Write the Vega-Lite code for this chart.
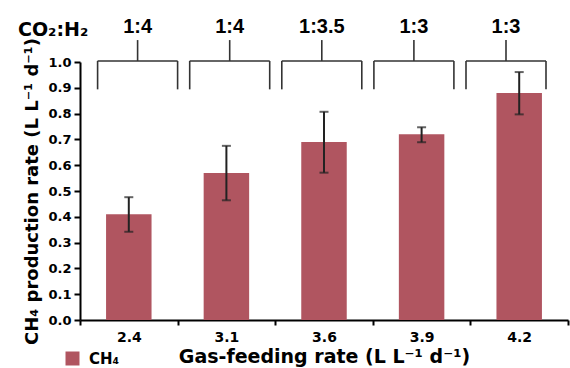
{
  "$schema": "https://vega.github.io/schema/vega-lite/v6.json",
  "width": 488,
  "height": 258,
  "autosize": {"type": "none"},
  "padding": {"left": 80, "top": 62, "right": 2, "bottom": 48},
  "background": "white",
  "config": {
    "view": {"stroke": null},
    "font": "DejaVu Sans",
    "axisY": {
      "labelOverlap": false,
      "labelFont": "DejaVu Sans",
      "labelFontSize": 13,
      "labelFontWeight": "bold",
      "labelColor": "black",
      "labelPadding": 3,
      "titleFont": "DejaVu Sans",
      "titleFontSize": 18,
      "titleFontWeight": "bold",
      "titleColor": "black",
      "titlePadding": 6,
      "domainColor": "black",
      "domainWidth": 2,
      "tickColor": "black",
      "tickWidth": 2,
      "tickSize": 6,
      "grid": false
    }
  },
  "title": {
    "text": "CO₂:H₂",
    "anchor": "start",
    "frame": "group",
    "orient": "top",
    "dx": -62,
    "offset": -23,
    "font": "DejaVu Sans",
    "fontSize": 19,
    "fontWeight": "bold",
    "color": "black"
  },
  "datasets": {
    "bars": [
      {"rate": "2.4", "ch4": 0.41, "lo": 0.342, "hi": 0.476},
      {"rate": "3.1", "ch4": 0.57, "lo": 0.464, "hi": 0.675},
      {"rate": "3.6", "ch4": 0.69, "lo": 0.571, "hi": 0.807},
      {"rate": "3.9", "ch4": 0.72, "lo": 0.689, "hi": 0.747},
      {"rate": "4.2", "ch4": 0.88, "lo": 0.797, "hi": 0.961}
    ],
    "ratios": [
      {"rate": "2.4", "ratio": "1:4"},
      {"rate": "3.1", "ratio": "1:4"},
      {"rate": "3.6", "ratio": "1:3.5"},
      {"rate": "3.9", "ratio": "1:3"},
      {"rate": "4.2", "ratio": "1:3"}
    ]
  },
  "layer": [
    {
      "data": {"name": "bars"},
      "layer": [
        {
          "mark": {"type": "bar", "width": {"band": 0.466}},
          "encoding": {
            "x": {
              "field": "rate",
              "type": "ordinal",
              "scale": {"type": "band", "paddingInner": 0, "paddingOuter": 0},
              "axis": {
                "title": "Gas-feeding rate (L L⁻¹ d⁻¹)",
                "labelAngle": 0,
                "tickBand": "extent",
                "labelFont": "DejaVu Sans",
                "labelFontSize": 14,
                "labelFontWeight": "bold",
                "labelColor": "black",
                "labelPadding": 5,
                "titleFont": "DejaVu Sans",
                "titleFontSize": 19,
                "titleFontWeight": "bold",
                "titleColor": "black",
                "titlePadding": 3,
                "domainColor": "black",
                "domainWidth": 2,
                "tickColor": "black",
                "tickWidth": 2,
                "tickSize": 5,
                "grid": false
              }
            },
            "y": {
              "field": "ch4",
              "type": "quantitative",
              "scale": {"domain": [0, 1]},
              "axis": {
                "title": "CH₄ production rate (L L⁻¹ d⁻¹)",
                "values": [0, 0.1, 0.2, 0.3, 0.4, 0.5, 0.6, 0.7, 0.8, 0.9, 1.0],
                "tickCount": 11,
                "format": ".1f",
                "labelOverlap": false
              }
            },
            "color": {
              "datum": "CH₄",
              "scale": {"range": ["#B05560"]},
              "legend": {
                "orient": "none",
                "legendX": -15,
                "legendY": 289,
                "title": null,
                "padding": 0,
                "symbolType": "square",
                "symbolSize": 196,
                "symbolStrokeWidth": 0,
                "labelFont": "DejaVu Sans",
                "labelFontSize": 15,
                "labelFontWeight": "bold",
                "labelColor": "black",
                "labelOffset": 9
              }
            }
          }
        },
        {
          "mark": {"type": "rule", "color": "#222222", "strokeWidth": 2},
          "encoding": {
            "x": {"field": "rate", "type": "ordinal"},
            "y": {"field": "lo", "type": "quantitative"},
            "y2": {"field": "hi"}
          }
        },
        {
          "mark": {"type": "tick", "color": "#222222", "size": 9, "thickness": 2},
          "encoding": {
            "x": {"field": "rate", "type": "ordinal"},
            "y": {"field": "lo", "type": "quantitative"}
          }
        },
        {
          "mark": {"type": "tick", "color": "#222222", "size": 9, "thickness": 2},
          "encoding": {
            "x": {"field": "rate", "type": "ordinal"},
            "y": {"field": "hi", "type": "quantitative"}
          }
        }
      ]
    },
    {
      "data": {"name": "ratios"},
      "layer": [
        {
          "mark": {"type": "rule", "xOffset": -40, "x2Offset": 40, "color": "#333333", "strokeWidth": 1.6},
          "encoding": {
            "x": {
              "field": "rate",
              "type": "ordinal",
              "scale": {"type": "point", "range": [57.6, 426], "padding": 0},
              "axis": null
            },
            "x2": {"field": "rate"},
            "y": {"datum": 1.004, "type": "quantitative", "scale": {"domain": [0, 1]}}
          }
        },
        {
          "mark": {"type": "rule", "xOffset": -40, "color": "#333333", "strokeWidth": 1.6},
          "encoding": {
            "x": {"field": "rate", "type": "ordinal"},
            "y": {"datum": 0.894, "type": "quantitative", "scale": {"domain": [0, 1]}},
            "y2": {"datum": 1.004}
          }
        },
        {
          "mark": {"type": "rule", "xOffset": 40, "color": "#333333", "strokeWidth": 1.6},
          "encoding": {
            "x": {"field": "rate", "type": "ordinal"},
            "y": {"datum": 0.894, "type": "quantitative", "scale": {"domain": [0, 1]}},
            "y2": {"datum": 1.004}
          }
        },
        {
          "mark": {"type": "rule", "color": "#333333", "strokeWidth": 1.6},
          "encoding": {
            "x": {"field": "rate", "type": "ordinal"},
            "y": {"datum": 1.004, "type": "quantitative", "scale": {"domain": [0, 1]}},
            "y2": {"datum": 1.085}
          }
        },
        {
          "mark": {"type": "text", "font": "Liberation Sans", "fontSize": 20, "fontWeight": "bold", "baseline": "middle", "color": "black"},
          "encoding": {
            "x": {"field": "rate", "type": "ordinal"},
            "y": {"datum": 1.134, "type": "quantitative", "scale": {"domain": [0, 1]}},
            "text": {"field": "ratio"}
          }
        }
      ]
    }
  ],
  "resolve": {"scale": {"x": "independent"}}
}
